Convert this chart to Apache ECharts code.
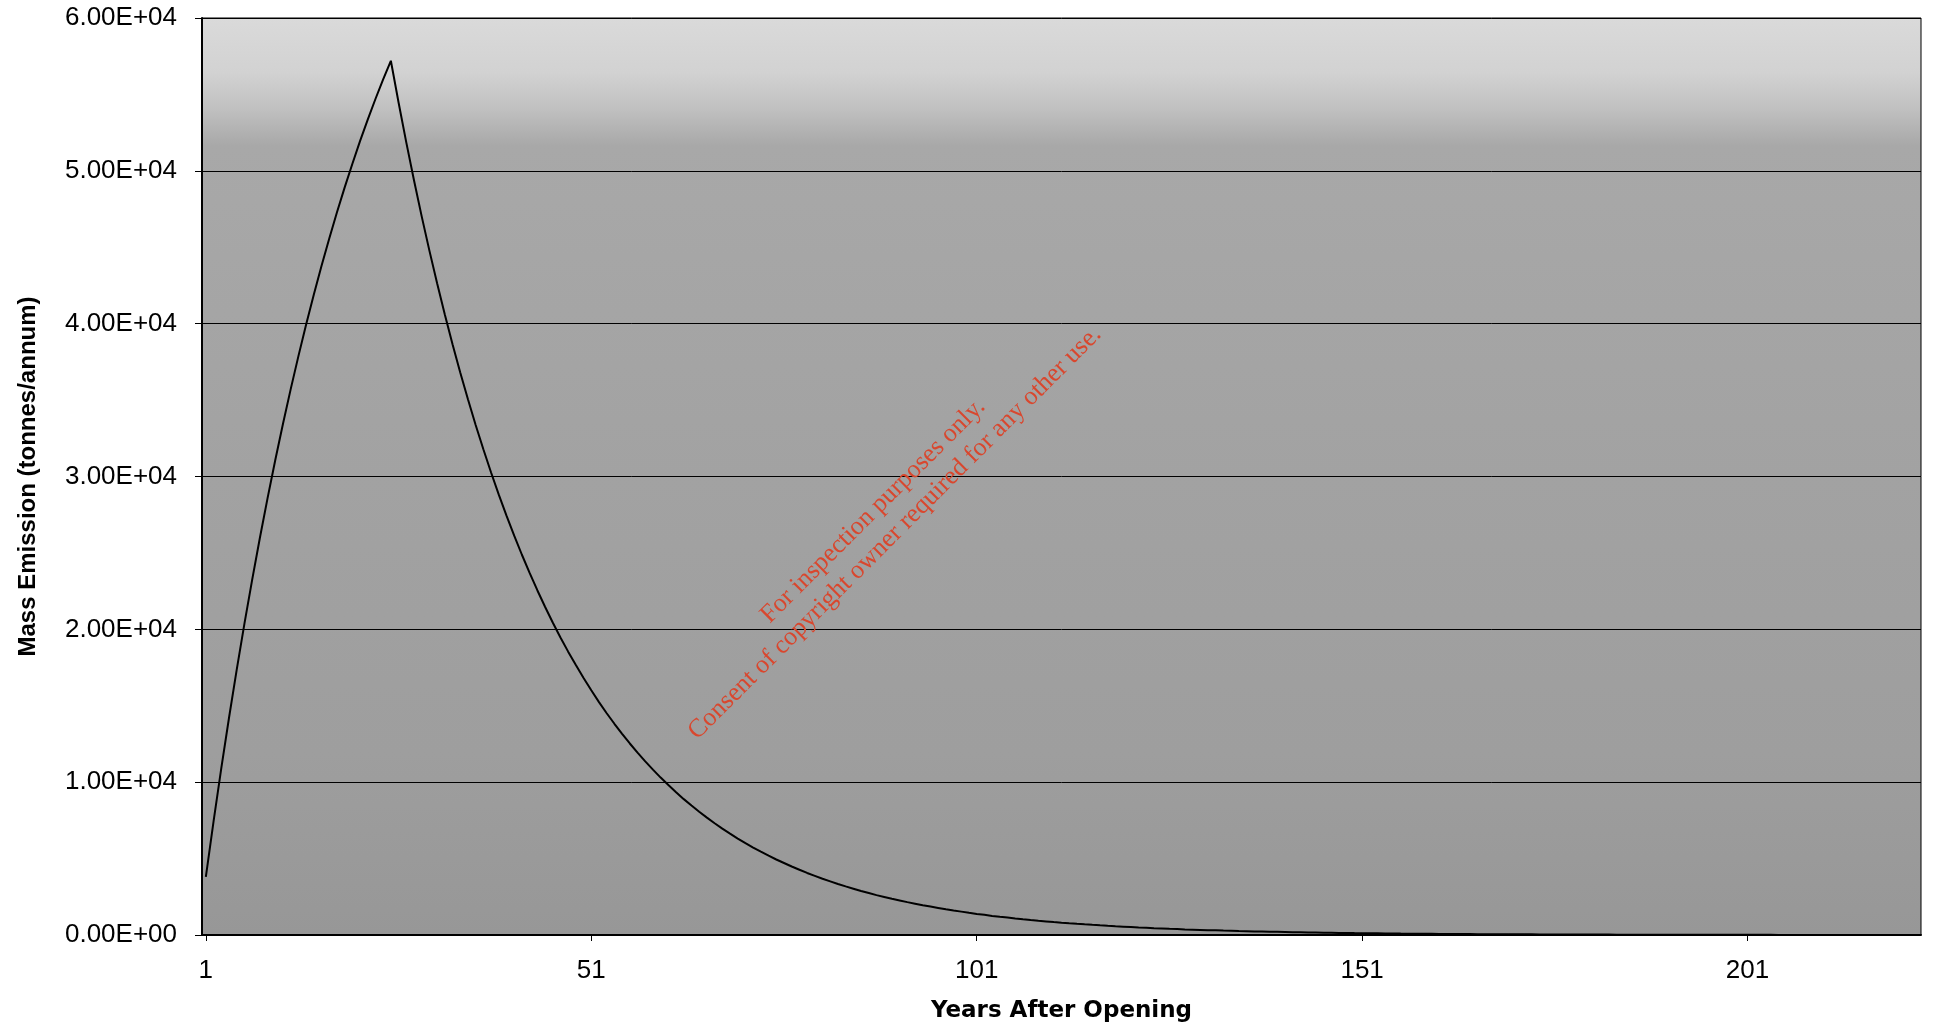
<!DOCTYPE html>
<html>
<head>
<meta charset="utf-8">
<script src="https://cdn.jsdelivr.net/npm/echarts@6/dist/echarts.min.js"></script>
<style>
html,body{margin:0;padding:0;background:#fff;}
#chart{width:1933px;height:1028px;}
</style>
</head>
<body>
<div id="chart"></div>
<script>
// Years after opening (categories)
const years = [];
for (let y = 1; y <= 223; y++) years.push(String(y));

// Mass emission (tonnes/annum)
const emissionRising = [
  3800, 7430, 10900, 14200, 17350, 20360, 23220, 25960, 28570, 31060,
  33440, 35700, 37860, 39930, 41890, 43770, 45560, 47270, 48900, 50450,
  51940, 53350, 54700, 55990, 57200
];
const emissionDecay = [
  54470, 51860, 49380, 47020, 44780, 42640, 40600, 38660, 36810, 35050,
  33370, 31780, 30260, 28810, 27440, 26130, 24880, 23690, 22560, 21480,
  20450, 19470, 18540, 17660, 16810, 16010, 15240, 14510, 13820, 13160,
  12530, 11930, 11360, 10820, 10300, 9810, 9340, 8890, 8470, 8060,
  7680, 7310, 6960, 6630, 6310, 6010, 5720, 5450, 5190, 4940,
  4710, 4480, 4270, 4060, 3870, 3680, 3510, 3340, 3180, 3030,
  2880, 2750, 2610, 2490, 2370, 2260, 2150, 2050, 1950, 1860,
  1770, 1680, 1600, 1530, 1450, 1380, 1320, 1250, 1190, 1140,
  1080, 1030, 981, 934, 890, 847, 807, 768, 731, 696,
  663, 631, 601, 572, 545, 519, 494, 471, 448, 427,
  406, 387, 368, 351, 334, 318, 303, 288, 275, 261,
  249, 237, 226, 215, 205, 195, 185, 177, 168, 160,
  152, 145, 138, 132, 125, 119, 114, 108, 103, 98,
  93, 89, 85, 81, 77, 73, 70, 66, 63, 60,
  57, 55, 52, 50, 47, 45, 43, 41, 39, 37,
  35, 34, 32, 30, 29, 28, 26, 25, 24, 23,
  22, 21, 20, 19, 18, 17, 16, 15, 14, 14,
  13, 12, 12, 11, 11, 10, 10, 9, 9, 8,
  8, 7, 7, 7, 6, 6, 6, 5, 5, 5,
  5, 4, 4, 4, 4, 4, 3, 3
];
const emission = emissionRising.concat(emissionDecay);

const yTickValues = [0, 10000, 20000, 30000, 40000, 50000, 60000];

const watermarkLines = [
  'For inspection purposes only.',
  'Consent of copyright owner required for any other use.'
];

function sci(v) {
  if (v === 0) return '0.00E+00';
  const e = Math.floor(Math.log10(Math.abs(v)));
  const m = v / Math.pow(10, e);
  const es = (e < 0 ? '-' : '+') + String(Math.abs(e)).padStart(2, '0');
  return m.toFixed(2) + 'E' + es;
}

const chart = echarts.init(document.getElementById('chart'));
const labelFont = 'Liberation Sans, Arial, sans-serif';

chart.setOption({
  animation: false,
  backgroundColor: '#ffffff',
  grid: {
    left: 202, right: 12, top: 18, bottom: 93,
    show: true,
    borderColor: '#000',
    borderWidth: 1,
    backgroundColor: {
      type: 'linear', x: 0, y: 0, x2: 0, y2: 1,
      colorStops: [
        { offset: 0, color: '#dadada' },
        { offset: 0.06, color: '#d2d2d2' },
        { offset: 0.10, color: '#c0c0c0' },
        { offset: 0.14, color: '#a8a8a8' },
        { offset: 0.5, color: '#a2a2a2' },
        { offset: 0.8, color: '#9e9e9e' },
        { offset: 1, color: '#979797' }
      ]
    }
  },
  xAxis: {
    type: 'category',
    data: years,
    boundaryGap: true,
    name: 'Years After Opening',
    nameLocation: 'middle',
    nameGap: 65,
    nameTextStyle: { fontFamily: 'DejaVu Sans, sans-serif', fontWeight: 'bold', fontSize: 23, color: '#000' },
    axisLine: { lineStyle: { color: '#000', width: 2 } },
    axisTick: { show: true, interval: 49, alignWithLabel: true, length: 6, lineStyle: { color: '#000' } },
    axisLabel: { interval: 49, margin: 23, fontFamily: labelFont, fontSize: 26, color: '#000' },
    splitLine: { show: false }
  },
  yAxis: {
    type: 'value',
    min: yTickValues[0],
    max: yTickValues[yTickValues.length - 1],
    interval: yTickValues[1] - yTickValues[0],
    name: 'Mass Emission (tonnes/annum)',
    nameLocation: 'middle',
    nameRotate: 90,
    nameGap: 162,
    nameTextStyle: { fontFamily: labelFont, fontWeight: 'bold', fontSize: 24, color: '#000' },
    axisLine: { show: true, lineStyle: { color: '#000', width: 2 } },
    axisTick: { show: true, length: 7, lineStyle: { color: '#000' } },
    axisLabel: { margin: 25, fontFamily: labelFont, fontSize: 26, color: '#000', formatter: sci },
    splitLine: { show: true, lineStyle: { color: '#000', width: 1 } }
  },
  series: [{
    type: 'line',
    data: emission,
    showSymbol: false,
    symbol: 'none',
    smooth: false,
    lineStyle: { color: '#000', width: 2 },
    z: 5
  }],
  graphic: [{
    type: 'text',
    x: 884,
    y: 522,
    rotation: Math.PI / 4,
    z: 10,
    style: {
      text: watermarkLines.join('\n'),
      font: '26px "Liberation Serif", "Times New Roman", serif',
      fill: '#d9472e',
      textAlign: 'center',
      textVerticalAlign: 'middle',
      lineHeight: 31
    }
  }]
});
</script>
</body>
</html>
